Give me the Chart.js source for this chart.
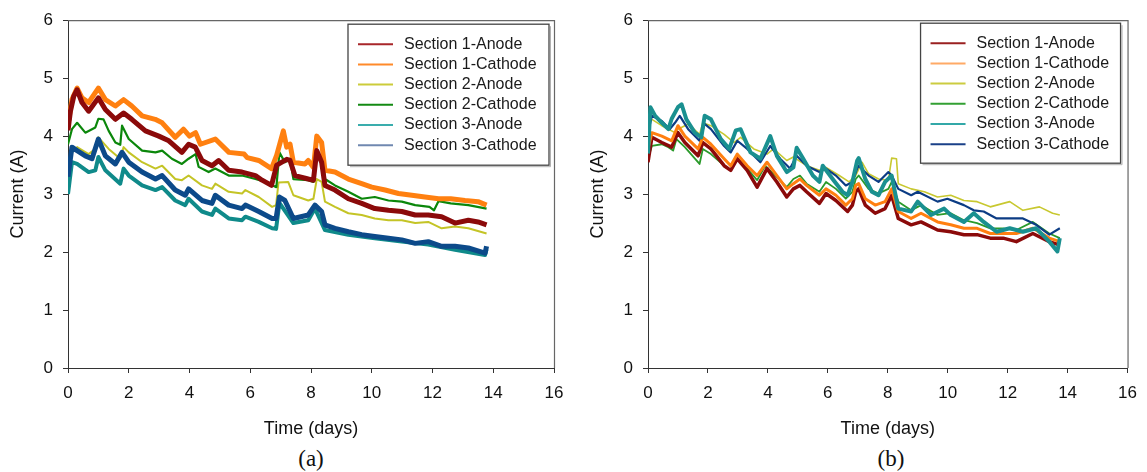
<!DOCTYPE html>
<html><head><meta charset="utf-8">
<script src="https://cdn.jsdelivr.net/npm/chart.js@4.4.1/dist/chart.umd.min.js"></script>
<style>
html,body{margin:0;padding:0;background:#fff;width:1147px;height:472px;overflow:hidden;position:relative;}
.wrap{position:absolute;top:0;}
#wa{left:0;} #wb{left:574px;}
.cap{position:absolute;top:447px;font-family:"Liberation Serif","DejaVu Serif",serif;font-size:23px;line-height:23px;color:#111;transform:translateX(-50%);}
</style></head>
<body>
<div class="wrap" id="wa"><canvas id="ca" width="574" height="440"></canvas></div>
<div class="wrap" id="wb"><canvas id="cb" width="573" height="440"></canvas></div>
<div class="cap" style="left:311px">(a)</div>
<div class="cap" style="left:891px">(b)</div>
<script>
// ---------- labels & ticks ----------
const seriesLabels = ["Section 1-Anode","Section 1-Cathode","Section 2-Anode","Section 2-Cathode","Section 3-Anode","Section 3-Cathode"];
const xTicks = [0,2,4,6,8,10,12,14,16];
const yTicks = [0,1,2,3,4,5,6];

// ---------- chart (a) ----------
const aS1AnodeT = [0,0.08,0.19,0.3,0.46,0.68,1.0,1.23,1.56,1.83,2.1,2.55,2.99,3.32,3.75,3.97,4.19,4.41,4.74,4.96,5.29,5.73,6.17,6.39,6.7,6.87,7.2,7.31,7.47,7.91,8.08,8.19,8.35,8.46,8.79,9.23,9.67,10.1,10.55,10.99,11.43,11.86,12.3,12.74,13.18,13.5,13.78];
const aS1AnodeV = [4.1,4.43,4.69,4.8,4.58,4.43,4.66,4.46,4.29,4.4,4.29,4.09,4.0,3.92,3.72,3.86,3.81,3.58,3.49,3.58,3.41,3.38,3.32,3.24,3.15,3.5,3.6,3.58,3.32,3.26,3.24,3.75,3.55,3.15,3.07,2.92,2.84,2.75,2.72,2.7,2.64,2.64,2.61,2.5,2.55,2.52,2.47];
const aS1CathodeT = [0,0.13,0.3,0.46,0.68,1.0,1.23,1.56,1.83,2.1,2.44,2.87,3.1,3.53,3.8,4.0,4.2,4.36,4.85,5.3,5.8,5.9,6.28,6.7,6.87,7.09,7.2,7.31,7.42,7.8,7.91,8.08,8.19,8.35,8.46,8.79,9.23,9.67,10.0,10.44,10.88,11.32,11.75,12.2,12.6,13.07,13.5,13.78];
const aS1CathodeV = [4.2,4.63,4.83,4.66,4.58,4.83,4.63,4.52,4.63,4.52,4.35,4.29,4.23,3.98,4.12,4.0,4.06,3.86,3.95,3.72,3.69,3.63,3.58,3.44,3.67,4.09,3.81,3.86,3.55,3.52,3.58,3.46,4.0,3.89,3.41,3.38,3.26,3.18,3.12,3.07,3.01,2.98,2.95,2.92,2.92,2.89,2.87,2.81];
const aS2AnodeT = [0,0.13,0.3,0.68,0.9,1.0,1.34,1.72,1.83,2.0,2.44,2.88,3.1,3.53,3.75,3.97,4.41,4.74,4.85,5.29,5.73,5.84,6.28,6.72,6.85,6.93,7.25,7.42,7.91,8.08,8.19,8.35,8.46,8.79,9.23,9.67,10.1,10.55,10.99,11.43,11.86,12.3,12.74,13.18,13.78];
const aS2AnodeV = [3.44,3.72,3.81,3.69,3.78,3.98,3.78,3.61,3.81,3.72,3.55,3.44,3.49,3.26,3.24,3.32,3.15,3.09,3.18,3.04,3.01,3.07,2.95,2.78,2.81,3.2,3.21,2.98,2.89,2.92,3.26,3.21,2.87,2.78,2.67,2.64,2.58,2.55,2.55,2.5,2.52,2.41,2.44,2.41,2.32];
const aS2CathodeT = [0,0.13,0.3,0.57,0.9,1.0,1.17,1.34,1.56,1.72,1.78,2.0,2.44,2.88,3.1,3.42,3.75,3.97,4.2,4.3,4.63,4.85,5.29,5.73,6.17,6.5,6.86,6.96,7.14,7.31,7.42,7.91,8.08,8.19,8.35,8.46,8.79,9.23,9.67,10.1,10.55,10.99,11.43,11.9,12.05,12.2,12.6,13.18,13.78];
const aS2CathodeV = [3.86,4.12,4.23,4.06,4.15,4.3,4.29,4.09,3.89,3.85,4.18,3.95,3.75,3.72,3.75,3.61,3.52,3.61,3.69,3.47,3.38,3.44,3.32,3.32,3.26,3.21,3.12,3.72,3.55,3.61,3.26,3.24,3.21,3.95,3.89,3.26,3.15,3.04,2.92,2.95,2.89,2.87,2.81,2.78,2.72,2.88,2.84,2.81,2.75];
const aS3AnodeT = [0,0.13,0.3,0.68,0.9,1.0,1.23,1.72,1.83,2.0,2.44,2.88,3.1,3.53,3.86,3.97,4.41,4.74,4.85,5.29,5.73,5.84,6.28,6.72,6.85,6.96,7.42,7.91,8.13,8.46,9.23,10.1,10.99,11.86,12.74,13.73,13.78];
const aS3AnodeV = [3.0,3.55,3.52,3.38,3.41,3.64,3.41,3.18,3.44,3.32,3.15,3.07,3.12,2.89,2.81,2.92,2.7,2.64,2.75,2.58,2.55,2.61,2.52,2.41,2.4,2.85,2.5,2.55,2.75,2.38,2.3,2.24,2.18,2.13,2.04,1.95,2.05];
const aS3CathodeT = [0,0.13,0.3,0.57,0.79,1.0,1.23,1.56,1.78,2.0,2.44,2.88,3.1,3.53,3.86,3.97,4.41,4.74,4.85,5.29,5.73,5.84,6.28,6.72,6.85,6.96,7.14,7.42,7.91,8.13,8.35,8.46,8.79,9.23,9.67,10.1,10.55,10.99,11.43,11.86,12.3,12.74,13.18,13.73,13.78];
const aS3CathodeV = [3.3,3.81,3.75,3.66,3.61,3.95,3.66,3.52,3.72,3.55,3.38,3.26,3.32,3.07,2.98,3.09,2.89,2.84,2.98,2.81,2.75,2.81,2.7,2.58,2.58,2.95,2.89,2.58,2.64,2.81,2.7,2.47,2.41,2.35,2.3,2.27,2.24,2.21,2.15,2.18,2.1,2.1,2.07,1.98,2.1];

// ---------- chart (b) ----------
const bS1AnodeT = [0,0.13,0.46,0.79,1.0,1.23,1.67,1.83,2.1,2.54,2.76,2.98,3.31,3.64,3.97,4.3,4.63,4.85,5.07,5.29,5.72,5.94,6.27,6.66,6.82,6.93,7.03,7.25,7.58,7.91,8.13,8.35,8.78,9.11,9.66,10.1,10.54,10.98,11.42,11.85,12.29,12.84,13.39,13.74];
const bS1AnodeV = [3.55,3.98,3.89,3.81,4.06,3.89,3.66,3.89,3.78,3.49,3.41,3.61,3.41,3.12,3.44,3.21,2.95,3.09,3.15,3.04,2.84,3.01,2.89,2.7,2.81,3.04,3.09,2.81,2.67,2.75,2.98,2.58,2.47,2.52,2.38,2.35,2.3,2.3,2.24,2.24,2.18,2.32,2.18,2.12];
const bS1CathodeT = [0,0.13,0.46,0.79,1.0,1.23,1.67,1.83,2.1,2.54,2.76,2.98,3.31,3.64,3.97,4.3,4.63,4.85,5.07,5.29,5.72,5.94,6.27,6.6,6.82,6.93,7.03,7.25,7.58,7.91,8.13,8.35,8.78,9.11,9.66,10.1,10.54,10.98,11.42,11.85,12.29,12.84,13.39,13.74];
const bS1CathodeV = [3.78,4.06,4.0,3.92,4.18,4.0,3.78,3.98,3.86,3.61,3.49,3.69,3.49,3.32,3.55,3.32,3.09,3.18,3.26,3.15,2.98,3.09,2.98,2.81,2.92,3.15,3.18,2.92,2.81,2.87,3.09,2.7,2.58,2.67,2.52,2.47,2.41,2.41,2.32,2.32,2.32,2.41,2.24,2.18];
const bS2AnodeT = [0,0.13,0.46,0.9,1.0,1.34,1.72,1.83,2.1,2.54,2.87,3.09,3.53,3.97,4.19,4.63,4.85,5.29,5.72,5.94,6.38,6.71,6.93,7.14,7.36,7.69,8.02,8.13,8.29,8.35,8.78,9.22,9.66,10.1,10.54,10.98,11.42,12.07,12.51,13.06,13.5,13.74];
const bS2AnodeV = [4.18,4.29,4.18,4.06,4.12,4.21,4.03,4.23,4.18,4.03,3.89,3.98,3.78,3.69,3.78,3.58,3.64,3.49,3.41,3.46,3.32,3.21,3.32,3.55,3.35,3.26,3.24,3.62,3.61,3.18,3.09,3.04,2.95,2.98,2.89,2.87,2.78,2.87,2.72,2.78,2.67,2.64];
const bS2CathodeT = [0,0.13,0.46,0.68,0.84,0.95,1.23,1.72,1.83,2.1,2.54,2.76,2.98,3.31,3.64,3.91,4.19,4.63,4.85,5.07,5.29,5.72,5.94,6.27,6.6,6.82,6.93,7.03,7.36,7.69,8.02,8.13,8.35,8.78,9.11,9.66,10.1,10.54,10.98,11.42,11.85,12.29,12.84,13.39,13.74];
const bS2CathodeV = [3.61,3.83,3.86,3.81,3.75,3.95,3.81,3.52,3.78,3.69,3.49,3.41,3.61,3.44,3.24,3.49,3.35,3.12,3.26,3.32,3.18,3.04,3.21,3.09,2.92,3.04,3.26,3.32,3.09,3.01,3.09,3.21,2.87,2.72,2.81,2.64,2.67,2.55,2.5,2.41,2.41,2.38,2.52,2.32,2.24];
const bS3AnodeT = [0,0.08,0.24,0.46,0.68,0.79,1.0,1.12,1.28,1.56,1.78,1.89,2.1,2.43,2.71,2.93,3.09,3.42,3.75,4.08,4.3,4.63,4.85,4.96,5.18,5.5,5.72,5.83,6.16,6.49,6.66,6.82,6.98,7.03,7.25,7.47,7.69,7.91,8.13,8.35,8.78,9.0,9.44,9.88,10.1,10.54,10.87,11.2,11.63,12.07,12.51,12.95,13.39,13.66,13.74];
const bS3AnodeV = [3.7,4.5,4.35,4.23,4.12,4.3,4.5,4.55,4.29,4.06,3.98,4.35,4.29,3.95,3.78,4.1,4.12,3.72,3.61,4.0,3.66,3.38,3.46,3.8,3.61,3.32,3.21,3.49,3.26,3.04,2.98,3.21,3.58,3.62,3.26,3.04,2.98,3.21,3.32,2.75,2.7,2.87,2.64,2.75,2.64,2.52,2.67,2.52,2.35,2.41,2.35,2.41,2.18,2.01,2.24];
const bS3CathodeT = [0,0.13,0.46,0.73,0.9,1.06,1.34,1.72,1.89,2.1,2.54,2.76,2.98,3.31,3.75,4.08,4.41,4.74,4.96,5.29,5.72,5.94,6.27,6.6,6.82,6.98,7.03,7.36,7.69,8.02,8.13,8.35,8.78,9.0,9.66,9.99,10.54,10.87,11.2,11.63,12.07,12.51,12.95,13.39,13.74];
const bS3CathodeV = [4.06,4.35,4.26,4.12,4.23,4.35,4.12,3.92,4.21,4.12,3.83,3.72,3.92,3.78,3.55,3.83,3.61,3.44,3.66,3.49,3.38,3.44,3.32,3.15,3.21,3.44,3.49,3.32,3.21,3.38,3.32,3.09,2.98,3.04,2.87,2.92,2.81,2.72,2.7,2.58,2.58,2.58,2.47,2.3,2.41];

// ---------- helpers ----------
const FONT = '"Liberation Sans", Arial, Helvetica, sans-serif';
const pts = (t, v) => t.map((x, i) => ({x: x, y: v[i]}));

function ds(label, t, v, color, width, order, legendColor) {
  return {label, data: pts(t, v), borderColor: color, backgroundColor: color, borderWidth: width,
    pointRadius: 0, tension: 0, fill: false, order, borderJoinStyle: 'round', legendColor: legendColor || color};
}

const boxLegend = {
  id: 'boxLegend',
  afterDatasetsDraw(chart, args, opts) {
    const ctx = chart.ctx, ca = chart.chartArea;
    const w = opts.width, h = opts.height;
    const x0 = ca.right - opts.marginRight - w, y0 = ca.top + opts.marginTop;
    ctx.save();
    ctx.fillStyle = '#fff';
    ctx.fillRect(x0, y0, w, h);
    ctx.strokeStyle = '#b0b0b0'; ctx.lineWidth = 1;
    ctx.beginPath(); ctx.moveTo(x0 + 2, y0 + h + 1.5); ctx.lineTo(x0 + w + 1.5, y0 + h + 1.5); ctx.lineTo(x0 + w + 1.5, y0 + 2); ctx.stroke();
    ctx.strokeStyle = '#444'; ctx.lineWidth = 1.3;
    ctx.strokeRect(x0, y0, w, h);
    ctx.font = '16px ' + FONT;
    ctx.textBaseline = 'middle';
    chart.data.datasets.forEach((d, i) => {
      const y = y0 + 20 + i * 20.2;
      ctx.strokeStyle = d.legendColor; ctx.lineWidth = 2;
      ctx.beginPath(); ctx.moveTo(x0 + 10, y); ctx.lineTo(x0 + 45, y); ctx.stroke();
      ctx.fillStyle = '#1a1a1a';
      ctx.fillText(d.label, x0 + 56, y);
    });
    ctx.restore();
  }
};

const frame = {
  id: 'frame',
  beforeDatasetsDraw(chart) {
    const ctx = chart.ctx, ca = chart.chartArea;
    ctx.save();
    ctx.strokeStyle = '#666'; ctx.lineWidth = 1.2;
    ctx.beginPath();
    ctx.moveTo(ca.left, ca.top + 0.5); ctx.lineTo(ca.right + 0.5, ca.top + 0.5); ctx.lineTo(ca.right + 0.5, ca.bottom);
    ctx.stroke();
    ctx.restore();
  }
};

function makeChart(canvas, datasets, cfg) {
  return new Chart(canvas, {
    type: 'line',
    data: {datasets},
    plugins: [frame, boxLegend],
    options: {
      responsive: false, animation: false, events: [],
      layout: {padding: {left: 0, top: 17, right: cfg.rightPad, bottom: 0}},
      plugins: {
        legend: {display: false}, tooltip: {enabled: false},
        boxLegend: {width: cfg.legW, height: cfg.legH, marginRight: cfg.legMR, marginTop: cfg.legMT}
      },
      scales: {
        x: {
          type: 'linear', min: xTicks[0], max: xTicks[xTicks.length - 1],
          afterBuildTicks: s => { s.ticks = xTicks.map(v => ({value: v})); },
          afterFit: s => { s.height = 72; },
          grid: {display: true, drawOnChartArea: false, drawTicks: true, tickLength: 5, color: '#333', lineWidth: 1},
          border: {display: true, color: '#333', width: 1},
          ticks: {padding: 10, color: '#111', font: {family: FONT, size: 17}, maxRotation: 0},
          title: {display: true, text: 'Time (days)', color: '#111', font: {family: FONT, size: 18}, padding: {top: 0, bottom: 0}}
        },
        y: {
          type: 'linear', min: yTicks[0], max: yTicks[yTicks.length - 1],
          afterBuildTicks: s => { s.ticks = yTicks.map(v => ({value: v})); },
          afterFit: s => { s.width = cfg.yWidth; },
          grid: {display: true, drawOnChartArea: false, drawTicks: true, tickLength: 5, color: '#333', lineWidth: 1},
          border: {display: true, color: '#333', width: 1},
          ticks: {padding: 10, color: '#111', font: {family: FONT, size: 17}},
          title: {display: true, text: 'Current (A)', color: '#111', font: {family: FONT, size: 18}, padding: {top: cfg.yTitlePad, bottom: 0}}
        }
      }
    }
  });
}

makeChart(document.getElementById('ca'), [
  ds(seriesLabels[0], aS1AnodeT, aS1AnodeV, '#8b0a0a', 5, 0, '#a8262a'),
  ds(seriesLabels[1], aS1CathodeT, aS1CathodeV, '#ff8010', 5, 2, '#ff8a2a'),
  ds(seriesLabels[2], aS2AnodeT, aS2AnodeV, '#c4c426', 2, 5, '#cccc3a'),
  ds(seriesLabels[3], aS2CathodeT, aS2CathodeV, '#0b870b', 2.2, 3, '#138a13'),
  ds(seriesLabels[4], aS3AnodeT, aS3AnodeV, '#0f8a8a', 4, 4, '#3aadad'),
  ds(seriesLabels[5], aS3CathodeT, aS3CathodeV, '#0c4a8a', 5, 1, '#7088b0')
], {rightPad: 20, yWidth: 68, yTitlePad: 7, legW: 201, legH: 141, legMR: 5, legMT: 4});

makeChart(document.getElementById('cb'), [
  ds(seriesLabels[0], bS1AnodeT, bS1AnodeV, '#8b0a0a', 3.5, 2, '#9a2020'),
  ds(seriesLabels[1], bS1CathodeT, bS1CathodeV, '#ff7f10', 3, 1, '#ffaa66'),
  ds(seriesLabels[2], bS2AnodeT, bS2AnodeV, '#c8c830', 1.6, 5, '#cccc40'),
  ds(seriesLabels[3], bS2CathodeT, bS2CathodeV, '#2a9a2a', 1.8, 4, '#33a033'),
  ds(seriesLabels[4], bS3AnodeT, bS3AnodeV, '#1a9090', 4, 0, '#33a8a8'),
  ds(seriesLabels[5], bS3CathodeT, bS3CathodeV, '#0c3c84', 2.2, 3, '#1a4088')
], {rightPad: 12, yWidth: 74, yTitlePad: 13, legW: 200, legH: 140, legMR: 7, legMT: 3});
</script>
</body></html>
